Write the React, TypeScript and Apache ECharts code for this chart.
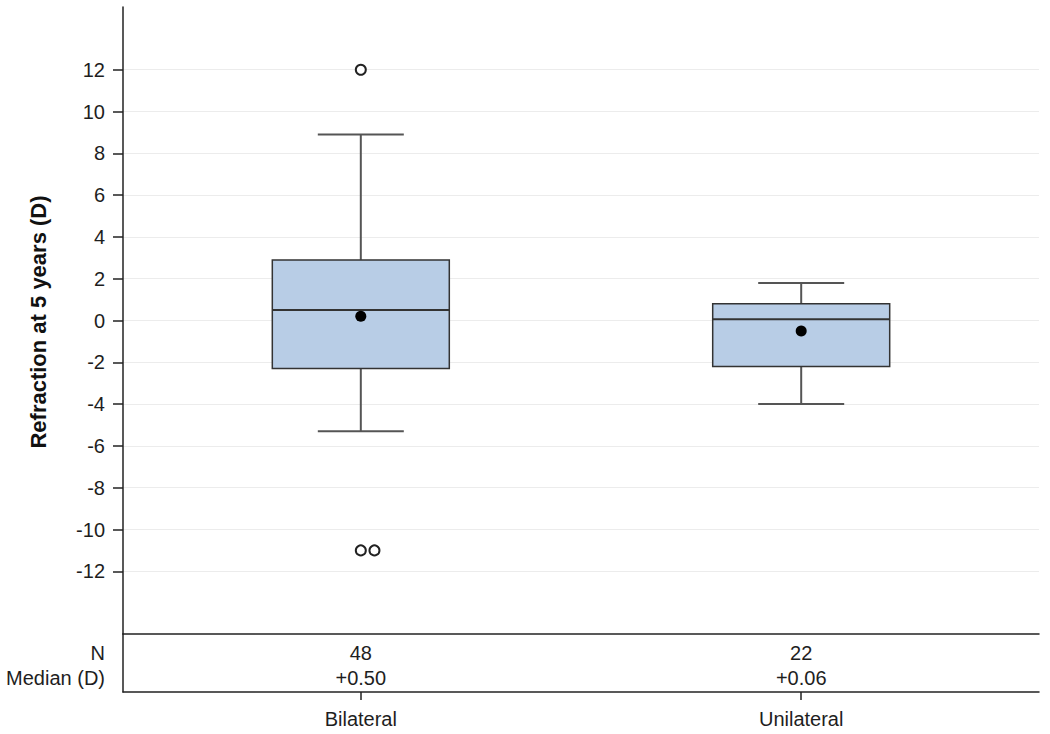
import React, { useEffect, useRef } from 'react';
import * as echarts from 'echarts';

// ---- data ----
const categories = ['Bilateral', 'Unilateral'];
// [min whisker, Q1, median, Q3, max whisker]
const bilateralBox = [-5.3, -2.3, 0.5, 2.9, 8.9];
const unilateralBox = [-4.0, -2.2, 0.06, 0.8, 1.8];
const means = [0.2, -0.5];
const outlierCategory = [0, 0, 0];
const outlierValues = [12, -11, -11];
const nValues = ['48', '22'];
const medianLabels = ['+0.50', '+0.06'];
const rowLabels = ['N', 'Median (D)'];
const yTicks = [-12, -10, -8, -6, -4, -2, 0, 2, 4, 6, 8, 10, 12];

const FONT = '"Liberation Sans", Arial, Helvetica, sans-serif';
const TEXT = '#1e1e1e';
const FS = 20;

export default function App() {
  const ref = useRef<HTMLDivElement>(null);

  useEffect(() => {
    document.body.style.margin = '0';
    if (!ref.current) return;
    const chart = echarts.init(ref.current, undefined, { renderer: 'svg' });

    const X_MIN = 0.46;
    const X_MAX = 2.54;
    const boxes = [bilateralBox, unilateralBox];
    const boxData = boxes.map((b, i) => [i + 1, ...b]);

    // jitter duplicated outliers sideways so both are visible
    const seen: Record<string, number> = {};
    const outlierData = outlierValues.map((v, i) => {
      const key = outlierCategory[i] + '_' + v;
      const k = seen[key] || 0;
      seen[key] = k + 1;
      return [outlierCategory[i] + 1 + k * 0.031, v];
    });

    const rowY = [0.33, 0.76];
    const lbl = { color: TEXT, fontSize: FS, fontFamily: FONT };
    const tableData: any[] = [];
    rowLabels.forEach((lab, r) => {
      tableData.push({
        value: [X_MIN, rowY[r]],
        label: { ...lbl, formatter: lab, position: 'left', distance: 18, align: 'right' },
      });
    });
    nValues.forEach((t, i) => {
      tableData.push({ value: [i + 1, rowY[0]], label: { ...lbl, formatter: t, position: 'inside' } });
    });
    medianLabels.forEach((t, i) => {
      tableData.push({ value: [i + 1, rowY[1]], label: { ...lbl, formatter: t, position: 'inside' } });
    });

    const axisLineStyle = { color: '#222', width: 1.5 };

    chart.setOption({
      animation: false,
      textStyle: { fontFamily: FONT },
      grid: [
        { left: 123, top: 7, width: 916, height: 627 },
        { left: 123, top: 634, width: 916, height: 58 },
      ],
      xAxis: [
        {
          gridIndex: 0,
          type: 'value',
          min: X_MIN,
          max: X_MAX,
          position: 'bottom',
          axisLine: { show: true, onZero: false, lineStyle: axisLineStyle },
          axisTick: { show: false },
          axisLabel: { show: false },
          splitLine: { show: false },
        },
        {
          gridIndex: 1,
          type: 'value',
          min: X_MIN,
          max: X_MAX,
          position: 'bottom',
          axisLine: { show: true, onZero: false, lineStyle: axisLineStyle },
          axisTick: { show: true, length: 8, customValues: [1, 2], lineStyle: { color: '#222', width: 1.5 } },
          axisLabel: {
            show: true,
            customValues: [1, 2],
            formatter: (v: number) => categories[Math.round(v) - 1] ?? '',
            fontSize: FS,
            color: TEXT,
            margin: 17,
            fontFamily: FONT,
          },
          splitLine: { show: false },
        },
      ],
      yAxis: [
        {
          gridIndex: 0,
          type: 'value',
          min: -15,
          max: 15,
          axisLine: { show: true, onZero: false, lineStyle: axisLineStyle },
          axisTick: { show: true, length: 10, customValues: yTicks, lineStyle: { color: '#222', width: 1.5 } },
          axisLabel: { show: true, customValues: yTicks, fontSize: FS, margin: 18, color: TEXT, fontFamily: FONT },
          splitLine: { show: true, lineStyle: { color: '#ececec', width: 1 } },
        },
        {
          gridIndex: 1,
          type: 'value',
          min: 0,
          max: 1,
          inverse: true,
          axisLine: { show: true, onZero: false, lineStyle: axisLineStyle },
          axisTick: { show: false },
          axisLabel: { show: false },
          splitLine: { show: false },
        },
      ],
      graphic: [
        {
          type: 'text',
          x: 38,
          y: 322,
          rotation: Math.PI / 2,
          style: {
            text: 'Refraction at 5 years (D)',
            font: 'bold 22px ' + FONT,
            fill: '#111',
            align: 'center',
            verticalAlign: 'middle',
          },
        },
      ],
      series: [
        {
          type: 'custom',
          xAxisIndex: 0,
          yAxisIndex: 0,
          data: boxData,
          encode: { x: 0, y: [1, 2, 3, 4, 5] },
          z: 2,
          renderItem: (params: any, api: any) => {
            const x = api.value(0);
            const pMin = api.coord([x, api.value(1)]);
            const pQ1 = api.coord([x, api.value(2)]);
            const pMed = api.coord([x, api.value(3)]);
            const pQ3 = api.coord([x, api.value(4)]);
            const pMax = api.coord([x, api.value(5)]);
            const cx = pMin[0];
            const halfBox = 88.5;
            const halfCap = 43;
            const wStyle = { stroke: '#555', lineWidth: 2 };
            return {
              type: 'group',
              children: [
                { type: 'line', shape: { x1: cx, y1: pQ3[1], x2: cx, y2: pMax[1] }, style: wStyle },
                { type: 'line', shape: { x1: cx - halfCap, y1: pMax[1], x2: cx + halfCap, y2: pMax[1] }, style: wStyle },
                { type: 'line', shape: { x1: cx, y1: pQ1[1], x2: cx, y2: pMin[1] }, style: wStyle },
                { type: 'line', shape: { x1: cx - halfCap, y1: pMin[1], x2: cx + halfCap, y2: pMin[1] }, style: wStyle },
                {
                  type: 'rect',
                  shape: { x: cx - halfBox, y: pQ3[1], width: halfBox * 2, height: pQ1[1] - pQ3[1] },
                  style: { fill: '#b8cde6', stroke: '#333', lineWidth: 1.5 },
                },
                {
                  type: 'line',
                  shape: { x1: cx - halfBox, y1: pMed[1], x2: cx + halfBox, y2: pMed[1] },
                  style: { stroke: '#333', lineWidth: 2 },
                },
              ],
            };
          },
        },
        {
          type: 'scatter',
          name: 'outliers',
          xAxisIndex: 0,
          yAxisIndex: 0,
          z: 3,
          symbol: 'circle',
          symbolSize: 10,
          itemStyle: { color: '#fff', borderColor: '#222', borderWidth: 2, opacity: 1 },
          data: outlierData,
        },
        {
          type: 'scatter',
          name: 'mean',
          xAxisIndex: 0,
          yAxisIndex: 0,
          z: 4,
          symbol: 'circle',
          symbolSize: 11,
          itemStyle: { color: '#000', opacity: 1 },
          data: means.map((m, i) => [i + 1, m]),
        },
        {
          type: 'scatter',
          name: 'table',
          xAxisIndex: 1,
          yAxisIndex: 1,
          symbolSize: 0,
          silent: true,
          clip: false,
          itemStyle: { opacity: 1 },
          label: { show: true, ...lbl },
          data: tableData,
        },
      ],
    });

    return () => chart.dispose();
  }, []);

  return <div ref={ref} style={{ width: 1050, height: 734 }} />;
}
